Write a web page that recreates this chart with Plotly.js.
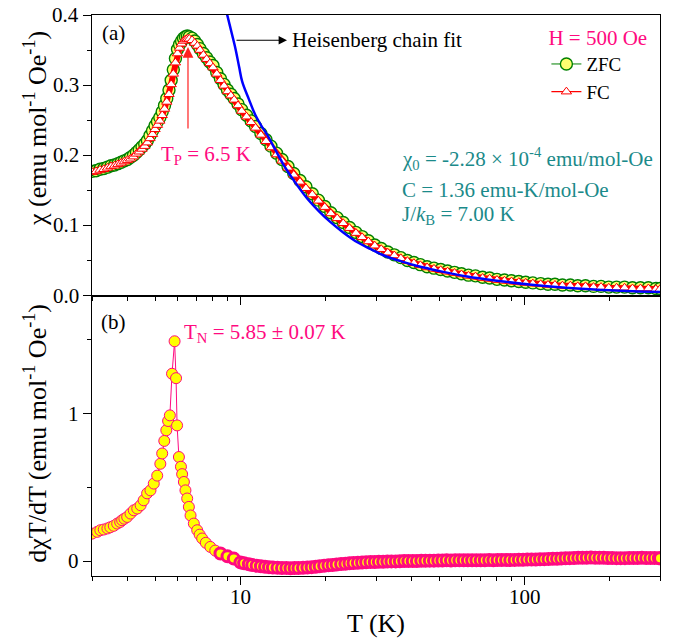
<!DOCTYPE html>
<html>
<head>
<meta charset="utf-8">
<script src="https://cdn.plot.ly/plotly-3.0.1.min.js"></script>
<style>
html,body{margin:0;padding:0;background:#fff;}
#chart{width:677px;height:642px;}
</style>
</head>
<body>
<div id="chart"></div>
<script>
// ZFC susceptibility (top panel)
const T_zfc = [3.00,3.10,3.20,3.30,3.40,3.50,3.60,3.70,3.80,3.90,4.00,4.10,4.20,4.30,4.40,4.50,4.60,4.70,4.80,4.90,5.00,5.10,5.20,5.30,5.40,5.50,5.60,5.70,5.80,5.90,6.00,6.10,6.20,6.30,6.40,6.50,6.60,6.75,6.90,7.05,7.20,7.40,7.60,7.80,8.00,8.25,8.50,8.75,9.00,9.25,9.50,9.80,10.1,10.5,10.9,11.3,11.8,12.3,12.8,13.4,14.0,14.7,15.4,16.2,17.0,17.9,18.8,19.8,20.8,21.9,23.0,24.2,25.5,26.8,28.2,29.7,31.3,33.0,34.8,36.7,38.7,40.8,43.0,45.4,48.0,50.7,53.6,56.7,60.0,63.5,67.2,71.2,75.4,80.0,85.0,90.0,95.5,101,107,114,121,128,136,145,154,164,175,186,198,211,225,240,256,273,290,300];
const chi_zfc = [0.177,0.178,0.180,0.181,0.183,0.185,0.186,0.188,0.190,0.192,0.194,0.197,0.200,0.204,0.208,0.212,0.216,0.221,0.228,0.235,0.242,0.248,0.254,0.262,0.271,0.281,0.293,0.307,0.322,0.338,0.351,0.358,0.363,0.367,0.369,0.370,0.369,0.367,0.363,0.358,0.352,0.345,0.339,0.333,0.328,0.318,0.309,0.301,0.293,0.287,0.281,0.273,0.265,0.257,0.249,0.241,0.231,0.222,0.213,0.203,0.194,0.184,0.174,0.164,0.155,0.145,0.136,0.127,0.118,0.111,0.104,0.097,0.090,0.084,0.078,0.072,0.067,0.062,0.058,0.054,0.050,0.047,0.044,0.041,0.039,0.037,0.035,0.033,0.031,0.029,0.028,0.026,0.025,0.023,0.022,0.021,0.020,0.019,0.018,0.017,0.016,0.016,0.015,0.015,0.014,0.014,0.013,0.013,0.012,0.012,0.012,0.011,0.011,0.011,0.010,0.010];

// FC susceptibility (top panel)
const T_fc = [3.00,3.10,3.20,3.30,3.40,3.50,3.60,3.70,3.80,3.90,4.00,4.10,4.20,4.30,4.40,4.50,4.60,4.70,4.80,4.90,5.00,5.10,5.20,5.30,5.40,5.50,5.60,5.70,5.80,5.90,6.00,6.10,6.20,6.30,6.40,6.50,6.60,6.75,6.90,7.05,7.20,7.40,7.60,7.80,8.00,8.25,8.50,8.75,9.00,9.25,9.50,9.80,10.1,10.5,10.9,11.3,11.8,12.3,12.8,13.4,14.0,14.7,15.4,16.2,17.0,17.9,18.8,19.8,20.8,21.9,23.0,24.2,25.5,26.8,28.2,29.7,31.3,33.0,34.8,36.7,38.7,40.8,43.0,45.4,48.0,50.7,53.6,56.7,60.0,63.5,67.2,71.2,75.4,80.0,85.0,90.0,95.5,101,107,114,121,128,136,145,154,164,175,186,198,211,225,240,256,273,290,300];
const chi_fc = [0.176,0.177,0.179,0.180,0.182,0.184,0.185,0.187,0.189,0.191,0.193,0.195,0.198,0.202,0.205,0.209,0.213,0.218,0.224,0.230,0.237,0.243,0.249,0.257,0.266,0.276,0.287,0.301,0.316,0.332,0.345,0.353,0.359,0.363,0.365,0.366,0.366,0.364,0.360,0.356,0.350,0.343,0.337,0.331,0.325,0.316,0.307,0.299,0.291,0.285,0.279,0.271,0.263,0.255,0.247,0.239,0.229,0.220,0.211,0.201,0.192,0.182,0.172,0.162,0.153,0.144,0.135,0.126,0.117,0.110,0.103,0.096,0.089,0.083,0.077,0.071,0.066,0.061,0.057,0.053,0.049,0.046,0.043,0.040,0.038,0.036,0.034,0.032,0.030,0.028,0.027,0.025,0.024,0.022,0.021,0.020,0.019,0.018,0.017,0.016,0.015,0.015,0.014,0.014,0.013,0.013,0.012,0.012,0.011,0.011,0.011,0.010,0.010,0.010,0.009,0.009];

// Heisenberg chain fit (top panel)
const T_fit = [8.85,8.98,9.3,9.6,9.9,10.14,10.7,11.29,11.8,12.42,13.3,14.2,15.6,17.2,18.9,20.7,23.0,25.8,28.8,32.0,36.6,42,50,62.8,80,108,140,185,240,300];
const chi_fit = [0.410,0.400,0.375,0.352,0.325,0.305,0.280,0.257,0.243,0.229,0.207,0.186,0.161,0.138,0.120,0.105,0.090,0.076,0.066,0.057,0.049,0.042,0.035,0.027,0.021,0.015,0.011,0.008,0.006,0.005];

// d(chi T)/dT (bottom panel)
const T_deriv = [3.00,3.13,3.21,3.30,3.40,3.48,3.58,3.68,3.77,3.83,3.90,3.99,4.10,4.21,4.33,4.45,4.56,4.69,4.82,4.95,5.09,5.22,5.30,5.39,5.48,5.56,5.64,5.74,5.86,5.93,5.98,6.07,6.17,6.23,6.32,6.40,6.49,6.58,6.67,6.85,7.04,7.18,7.33,7.55,7.83,8.15,8.5,9.0,9.47,
  10.0,10.3,10.7,11.0,11.4,11.8,12.2,12.6,13.0,13.5,14.0,14.5,15.0,15.5,16.0,16.6,17.2,17.8,18.4,19.0,19.7,20.4,21.1,21.8,22.6,23.4,24.2,25.0,25.9,26.8,27.7,28.7,29.7,30.7,31.8,32.9,34.0,35.2,36.4,37.7,39.0,40.4,41.8,43.3,44.8,46.4,48.0,49.7,51.4,53.2,55.1,57.0,59.0,61.1,63.2,65.4,67.7,70.1,72.5,75.1,77.7,80.4,83.2,86.1,89.1,92.3,95.5,98.8,102.3,105.9,109.6,113.4,117.4,121.5,125.8,130.2,134.7,139.5,144.3,149.4,154.6,160.0,165.6,171.4,177.4,183.6,190.1,196.7,203.6,210.8,218.1,225.8,233.7,241.9,250.3,259.1,268.2,277.6,287.3,297.3,300];
const deriv = [0.187,0.199,0.21,0.215,0.222,0.23,0.24,0.255,0.266,0.278,0.288,0.30,0.323,0.345,0.357,0.379,0.413,0.46,0.48,0.526,0.58,0.66,0.73,0.815,0.887,0.95,0.988,1.27,1.49,1.24,0.92,0.706,0.64,0.59,0.537,0.48,0.425,0.368,0.31,0.255,0.21,0.18,0.154,0.125,0.097,0.072,0.052,0.033,0.018,
  -0.008,-0.014,-0.02,-0.025,-0.03,-0.034,-0.037,-0.04,-0.042,-0.044,-0.046,-0.045,-0.047,-0.046,-0.046,-0.044,-0.042,-0.04,-0.037,-0.034,-0.031,-0.028,-0.025,-0.022,-0.019,-0.017,-0.014,-0.012,-0.011,-0.009,-0.007,-0.006,-0.005,-0.004,-0.003,-0.002,-0.001,-0.001,0.0,0.001,0.001,0.002,0.002,0.003,0.003,0.004,0.004,0.005,0.005,0.006,0.005,0.006,0.006,0.007,0.006,0.007,0.007,0.006,0.007,0.008,0.007,0.008,0.008,0.009,0.008,0.009,0.010,0.010,0.011,0.012,0.012,0.013,0.014,0.015,0.016,0.017,0.018,0.020,0.021,0.022,0.023,0.024,0.024,0.025,0.024,0.023,0.023,0.022,0.022,0.021,0.021,0.021,0.022,0.022,0.022,0.023,0.022,0.022,0.022,0.021,0.020];

// tick labels
const xTickVals = [10, 100];
const xTickText = ['10', '100'];
const yTopTickVals = [0, 0.1, 0.2, 0.3, 0.4];
const yTopTickText = ['0.0', '0.1', '0.2', '0.3', '0.4'];
const yBotTickVals = [0, 1];
const yBotTickText = ['0', '1'];

const FONT = 'Liberation Serif';
const PINK = '#ff0a80';
const TEAL = '#1b8a8a';

// thicker outlines where markers crowd together (style only)
const derivOutline = T_deriv.map(t => (t > 8.2 ? 3 : 1));

const traces = [
  {x: T_zfc, y: chi_zfc, xaxis: 'x2', yaxis: 'y', name: 'ZFC', mode: 'lines+markers',
   line: {color: '#008000', width: 1},
   marker: {symbol: 'circle', size: 12, color: '#ffff70', line: {color: '#008000', width: 1.4}}},
  {x: T_fc, y: chi_fc, xaxis: 'x2', yaxis: 'y', name: 'FC band', mode: 'lines',
   line: {color: '#ff0000', width: 6}, showlegend: false},
  {x: T_fc, y: chi_fc, xaxis: 'x2', yaxis: 'y', name: 'FC', mode: 'lines+markers',
   line: {color: '#ff0000', width: 1.2},
   marker: {symbol: 'triangle-up', size: 9, color: '#ffffff', line: {color: '#ff0000', width: 1}}},
  {x: T_fit, y: chi_fit, xaxis: 'x2', yaxis: 'y', name: 'Heisenberg chain fit', mode: 'lines',
   line: {color: '#0000ff', width: 2.5, shape: 'spline'}, showlegend: false},
  {x: T_deriv, y: deriv, xaxis: 'x', yaxis: 'y2', name: 'dχT/dT', mode: 'lines+markers',
   line: {color: PINK, width: 1},
   marker: {symbol: 'circle', size: 11, color: '#ffff00', line: {color: PINK, width: derivOutline}}, showlegend: false}
];

const xCommon = {
  type: 'log', range: [Math.log10(3), Math.log10(300)], dtick: 1,
  ticks: 'outside', ticklen: 8, tickwidth: 1, tickcolor: '#000',
  minor: {ticks: 'outside', ticklen: 4, dtick: 'D1', tickcolor: '#000', tickwidth: 1},
  showline: true, linecolor: '#000', linewidth: 1, mirror: true,
  showgrid: false, zeroline: false, showticklabels: false
};

function ann(x, y, text, color, xanchor, size) {
  return {xref: 'paper', yref: 'paper', x: x, y: y, text: text, showarrow: false,
    xanchor: xanchor || 'center', yanchor: 'middle',
    font: {family: FONT, size: size || 21, color: color}};
}

const tickAnns = []
  .concat(xTickVals.map((v, i) => ({xref: 'x', yref: 'paper', x: Math.log10(v), y: 0, yshift: -21,
    xanchor: 'center', yanchor: 'middle', text: xTickText[i], showarrow: false,
    font: {family: FONT, size: 21, color: '#000'}})))
  .concat(yTopTickVals.map((v, i) => ({xref: 'paper', yref: 'y', x: 0, y: v, xshift: -11,
    xanchor: 'right', yanchor: 'middle', text: yTopTickText[i], showarrow: false,
    font: {family: FONT, size: 21, color: '#000'}})))
  .concat(yBotTickVals.map((v, i) => ({xref: 'paper', yref: 'y2', x: 0, y: v, xshift: -11,
    xanchor: 'right', yanchor: 'middle', text: yBotTickText[i], showarrow: false,
    font: {family: FONT, size: 21, color: '#000'}})));

const titleAnns = [
  {xref: 'paper', yref: 'paper', x: 0, y: 0, yshift: -47, xanchor: 'center', yanchor: 'middle',
   xshift: 284, text: 'T (K)', showarrow: false, font: {family: FONT, size: 26, color: '#000'}},
  {xref: 'paper', yref: 'paper', x: 0, y: 0.7967, xshift: -57, xanchor: 'center', yanchor: 'middle',
   textangle: -90, text: 'χ (emu mol<sup>-1</sup> Oe<sup>-1</sup>)', showarrow: false,
   font: {family: FONT, size: 26, color: '#000'}},
  {xref: 'paper', yref: 'paper', x: 0, y: 0.2536, xshift: -56, xanchor: 'center', yanchor: 'middle',
   textangle: -90, text: 'dχT/dT (emu mol<sup>-1</sup> Oe<sup>-1</sup>)', showarrow: false,
   font: {family: FONT, size: 26, color: '#000'}}
];

const layout = {
  width: 677, height: 642,
  margin: {l: 92, r: 17, t: 15, b: 66},
  paper_bgcolor: '#fff', plot_bgcolor: '#fff',
  font: {family: FONT, size: 21, color: '#000'},
  xaxis: Object.assign({}, xCommon, {anchor: 'y2', domain: [0, 1]}),
  xaxis2: Object.assign({}, xCommon, {anchor: 'y', domain: [0, 1]}),
  yaxis: {domain: [0.5, 1], range: [0, 0.4], dtick: 0.1, anchor: 'x2',
    ticks: 'outside', ticklen: 8, tickcolor: '#000', showticklabels: false,
    minor: {ticks: 'outside', ticklen: 4, dtick: 0.05, tickcolor: '#000'},
    showline: true, linecolor: '#000', mirror: true, showgrid: false, zeroline: false},
  yaxis2: {domain: [0, 0.5], range: [-0.1, 1.8], tickvals: yBotTickVals, anchor: 'x',
    ticks: 'outside', ticklen: 8, tickcolor: '#000', showticklabels: false,
    minor: {ticks: 'outside', ticklen: 4, tickvals: [0.5, 1.5], tickcolor: '#000'},
    showline: true, linecolor: '#000', mirror: true, showgrid: false, zeroline: false},
  showlegend: true,
  legend: {x: 0.80, y: 0.995, xanchor: 'left', yanchor: 'top', bgcolor: 'rgba(0,0,0,0)',
    font: {family: FONT, size: 19, color: '#000'}, tracegroupgap: 0,
    title: {text: 'H = 500 Oe', font: {family: FONT, size: 21, color: PINK}}},
  annotations: tickAnns.concat(titleAnns).concat([
    ann(0.037, 0.968, '(a)', '#000'),
    ann(0.037, 0.4525, '(b)', '#000'),
    ann(0.3486, 0.955, 'Heisenberg chain fit', '#000', 'left'),
    {xref: 'paper', yref: 'paper', x: 0.3433, y: 0.955, text: '', showarrow: true, ax: -52, ay: 0,
     arrowhead: 2, arrowsize: 1.4, arrowwidth: 1.2, arrowcolor: '#000'},
    ann(0.2007, 0.750, 'T<sub>P</sub> = 6.5 K', PINK),
    {xref: 'paper', yref: 'paper', x: 0.169, y: 0.943, text: '', showarrow: true, ax: 0, ay: 83,
     arrowhead: 2, arrowsize: 1.8, arrowwidth: 1.2, arrowcolor: '#ff2020'},
    ann(0.5423, 0.7445, 'χ<sub>0</sub> = -2.28 × 10<sup>-4</sup> emu/mol-Oe', TEAL, 'left'),
    ann(0.5423, 0.6875, 'C = 1.36 emu-K/mol-Oe', TEAL, 'left'),
    ann(0.5423, 0.643, 'J/<i>k</i><sub>B</sub> = 7.00 K', TEAL, 'left'),
    ann(0.1585, 0.4329, 'T<sub>N</sub> = 5.85 ± 0.07 K', PINK, 'left')
  ])
};

Plotly.newPlot('chart', traces, layout, {displayModeBar: false, staticPlot: true})
  .catch(function (e) { console.error(e); });
</script>
</body>
</html>
